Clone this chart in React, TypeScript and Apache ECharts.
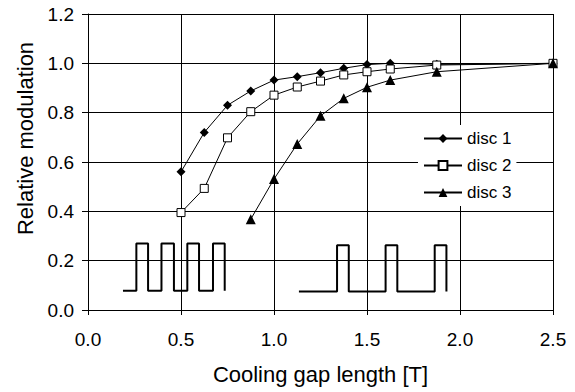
import React, { useEffect, useRef } from "react";
import * as echarts from "echarts";

const gapLength = [0.5, 0.625, 0.75, 0.875, 1.0, 1.125, 1.25, 1.375, 1.5, 1.625, 1.875, 2.5];
const disc1 = [0.56, 0.72, 0.83, 0.888, 0.932, 0.946, 0.962, 0.98, 0.995, 1.0, 0.996, 1.0];
const disc2 = [0.395, 0.493, 0.698, 0.804, 0.871, 0.904, 0.928, 0.953, 0.966, 0.977, 0.993, 1.0];
const gapLength3 = [0.875, 1.0, 1.125, 1.25, 1.375, 1.5, 1.625, 1.875, 2.5];
const disc3 = [0.368, 0.531, 0.673, 0.787, 0.858, 0.903, 0.932, 0.966, 1.0];

const yTicks = [0, 0.2, 0.4, 0.6, 0.8, 1.0, 1.2];
const xTicks = [0, 0.5, 1.0, 1.5, 2.0, 2.5];

// schematic pulse trains: start, then alternating rise/fall edges
const wave1Start = 0.188;
const wave1Edges = [0.26, 0.323, 0.395, 0.462, 0.534, 0.597, 0.672, 0.735];
const wave1Levels = [0.078, 0.27];
const wave2Start = 1.134;
const wave2Edges = [1.339, 1.402, 1.6, 1.663, 1.864, 1.927];
const wave2Levels = [0.075, 0.263];

function buildWave(start: number, edges: number[], levels: number[]) {
  const pts: number[][] = [[start, levels[0]]];
  let cur = 0;
  for (const e of edges) {
    pts.push([e, levels[cur]]);
    cur = 1 - cur;
    pts.push([e, levels[cur]]);
  }
  return pts;
}

const FONT = "'Liberation Sans', Arial, sans-serif";

export default function App() {
  const ref = useRef<HTMLDivElement>(null);
  useEffect(() => {
    if (!ref.current) return;
    const chart = echarts.init(ref.current, null, { renderer: "svg" });
    const zip = (xs: number[], ys: number[]) => xs.map((x, i) => [x, ys[i]]);
    chart.setOption({
      animation: false,
      backgroundColor: "#fff",
      textStyle: { fontFamily: FONT, color: "#000" },
      grid: { left: 88, right: 22, top: 14, bottom: 82, containLabel: false },
      xAxis: {
        type: "value",
        min: xTicks[0],
        max: xTicks[xTicks.length - 1],
        interval: 0.5,
        name: "Cooling gap length [T]",
        nameLocation: "middle",
        nameGap: 53,
        nameTextStyle: { fontSize: 22, color: "#000", fontFamily: FONT },
        axisLine: { show: true, lineStyle: { color: "#000", width: 1 } },
        axisTick: { show: true, length: 5, lineStyle: { color: "#000" } },
        axisLabel: {
          fontSize: 19,
          color: "#000",
          margin: 20,
          fontFamily: FONT,
          formatter: (v: number) => v.toFixed(1),
        },
        splitLine: { show: true, lineStyle: { color: "#000", width: 1 } },
      },
      yAxis: {
        type: "value",
        min: yTicks[0],
        max: yTicks[yTicks.length - 1],
        interval: 0.2,
        axisLine: { show: true, lineStyle: { color: "#000", width: 1 } },
        axisTick: { show: true, length: 6, lineStyle: { color: "#000" } },
        axisLabel: {
          fontSize: 19,
          color: "#000",
          margin: 14,
          fontFamily: FONT,
          formatter: (v: number) => v.toFixed(1),
        },
        splitLine: { show: true, lineStyle: { color: "#000", width: 1 } },
      },
      legend: {
        data: ["disc 1", "disc 2", "disc 3"],
        orient: "vertical",
        left: 418,
        top: 125,
        padding: 5,
        itemGap: 10,
        itemWidth: 38,
        itemHeight: 11,
        itemTextGap: 5,
        backgroundColor: "#fff",
        textStyle: { fontSize: 17, color: "#000", fontFamily: FONT },
      },
      graphic: [
        {
          type: "text",
          x: 25.5,
          y: 138.5,
          rotation: Math.PI / 2,
          style: {
            text: "Relative modulation",
            fill: "#000",
            font: `22px ${FONT}`,
            align: "center",
            verticalAlign: "middle",
          },
        },
      ],
      series: [
        {
          name: "wave A",
          type: "line",
          data: buildWave(wave1Start, wave1Edges, wave1Levels),
          showSymbol: false,
          symbol: "none",
          silent: true,
          lineStyle: { color: "#000", width: 2 },
          z: 3,
        },
        {
          name: "wave B",
          type: "line",
          data: buildWave(wave2Start, wave2Edges, wave2Levels),
          showSymbol: false,
          symbol: "none",
          silent: true,
          lineStyle: { color: "#000", width: 2 },
          z: 3,
        },
        {
          name: "disc 1",
          type: "line",
          data: zip(gapLength, disc1),
          symbol: "diamond",
          symbolSize: 9,
          lineStyle: { color: "#000", width: 1 },
          itemStyle: { color: "#000", borderColor: "#000", borderWidth: 0 },
          z: 5,
        },
        {
          name: "disc 2",
          type: "line",
          data: zip(gapLength, disc2),
          symbol: "rect",
          symbolSize: 8,
          lineStyle: { color: "#000", width: 1 },
          itemStyle: { color: "#fff", borderColor: "#000", borderWidth: 1 },
          z: 5,
        },
        {
          name: "disc 3",
          type: "line",
          data: zip(gapLength3, disc3),
          symbol: "triangle",
          symbolSize: 10,
          lineStyle: { color: "#000", width: 1 },
          itemStyle: { color: "#000", borderColor: "#000", borderWidth: 0 },
          z: 5,
        },
      ],
    });
    return () => chart.dispose();
  }, []);
  return (
    <div
      ref={ref}
      style={{ position: "fixed", left: 0, top: 0, width: 575, height: 392 }}
    />
  );
}
